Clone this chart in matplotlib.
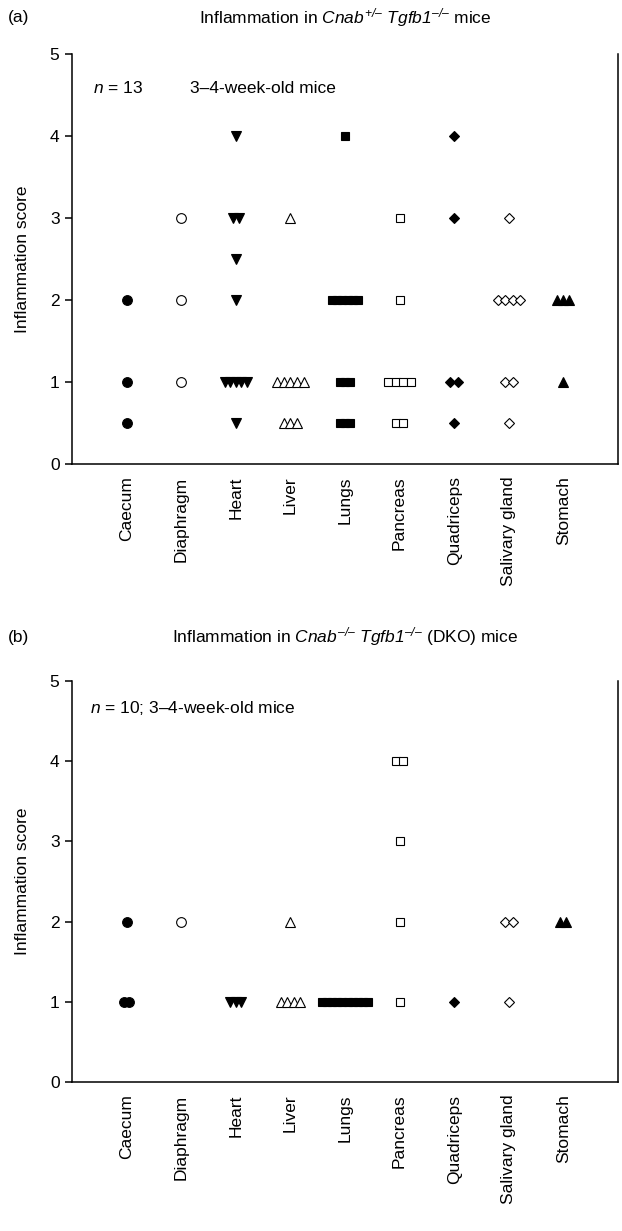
import numpy as np
import matplotlib
matplotlib.use("Agg")
import matplotlib.pyplot as plt

plt.rcParams['font.family'] = 'Liberation Sans'
plt.rcParams['mathtext.fontset'] = 'custom'
plt.rcParams['mathtext.rm'] = 'Liberation Sans:italic'
plt.rcParams['mathtext.it'] = 'Liberation Sans:italic'
plt.rcParams['font.size'] = 12.5

organs = ['Caecum', 'Diaphragm', 'Heart', 'Liver', 'Lungs', 'Pancreas',
          'Quadriceps', 'Salivary gland', 'Stomach']

# scores per organ, one entry per mouse
scores_a = [
    [2, 1, 0.5],                                   # Caecum
    [3, 2, 1],                                     # Diaphragm
    [4, 3, 3, 2.5, 2, 1, 1, 1, 1, 1, 0.5],         # Heart
    [3, 1, 1, 1, 1, 1, 0.5, 0.5, 0.5],             # Liver
    [4, 2, 2, 2, 2, 2, 2, 1, 1, 1, 0.5, 0.5, 0.5], # Lungs
    [3, 2, 1, 1, 1, 1, 0.5, 0.5],                  # Pancreas
    [4, 3, 1, 1, 0.5],                             # Quadriceps
    [3, 2, 2, 2, 2, 1, 1, 0.5],                    # Salivary gland
    [2, 2, 2, 1],                                  # Stomach
]
scores_b = [
    [2, 1, 1],
    [2],
    [1, 1, 1],
    [2, 1, 1, 1, 1],
    [1, 1, 1, 1, 1, 1, 1, 1, 1, 1],
    [4, 4, 3, 2, 1],
    [1],
    [2, 2, 1],
    [2, 2],
]

# marker, filled, size, horizontal step between overlapping points (data units)
styles = [('o', True, 7, 0.10), ('o', False, 7, 0.12), ('v', True, 7.5, 0.10),
          ('^', False, 7.5, 0.12), ('s', True, 6, 0.093), ('s', False, 6, 0.14),
          ('D', True, 5.6, 0.145), ('D', False, 5.6, 0.135), ('^', True, 7.5, 0.11)]


def draw(ax, scores):
    for i, (vals, (m, filled, ms, step)) in enumerate(zip(scores, styles)):
        vals = np.array(vals, float)
        for v in np.unique(vals):
            k = int((vals == v).sum())
            offs = (np.arange(k) - (k - 1) / 2) * step
            ax.plot(i + 1 + offs, [v] * k, linestyle='none', marker=m, ms=ms,
                    mfc='black' if filled else 'white', mec='black',
                    mew=0.8, zorder=3)
    ax.set_xlim(0, 10)
    ax.set_ylim(0, 5)
    ax.spines['top'].set_visible(False)
    for s in ['left', 'bottom', 'right']:
        ax.spines[s].set_linewidth(1.1)
    ax.set_yticks(range(6))
    ax.set_xticks(range(1, 10))
    ax.set_xticklabels(organs, rotation=90)
    ax.tick_params(axis='x', length=0, pad=9)
    ax.tick_params(axis='y', length=5, width=1.1, pad=4)
    ax.set_ylabel('Inflammation score')
    ax.yaxis.set_label_coords(-0.077, 0.5)


fig = plt.figure(figsize=(6.22, 12.31), dpi=100)
ax1 = fig.add_axes([0.1158, 0.6231, 0.8778, 0.3331])
ax2 = fig.add_axes([0.1158, 0.1210, 0.8778, 0.3258])
draw(ax1, scores_a)
draw(ax2, scores_b)

ax1.text(0.38, 4.58, '$n$ = 13', va='center')
ax1.text(2.16, 4.58, '3\u20134-week-old mice', va='center')
ax2.text(0.33, 4.66, '$n$ = 10; 3\u20134-week-old mice', va='center')

d = '\u2013'
fig.text(0.013, 0.986, '(a)', va='center')
fig.text(0.5547, 0.986,
         'Inflammation in $Cnab^{+/' + d + '}$ $Tgfb1^{' + d + '/' + d + '}$ mice',
         ha='center', va='center')
fig.text(0.013, 0.4825, '(b)', va='center')
fig.text(0.5547, 0.4825,
         'Inflammation in $Cnab^{' + d + '/' + d + '}$ $Tgfb1^{' + d + '/' + d
         + '}$ (DKO) mice',
         ha='center', va='center')

fig.savefig('out.png', dpi=100)
